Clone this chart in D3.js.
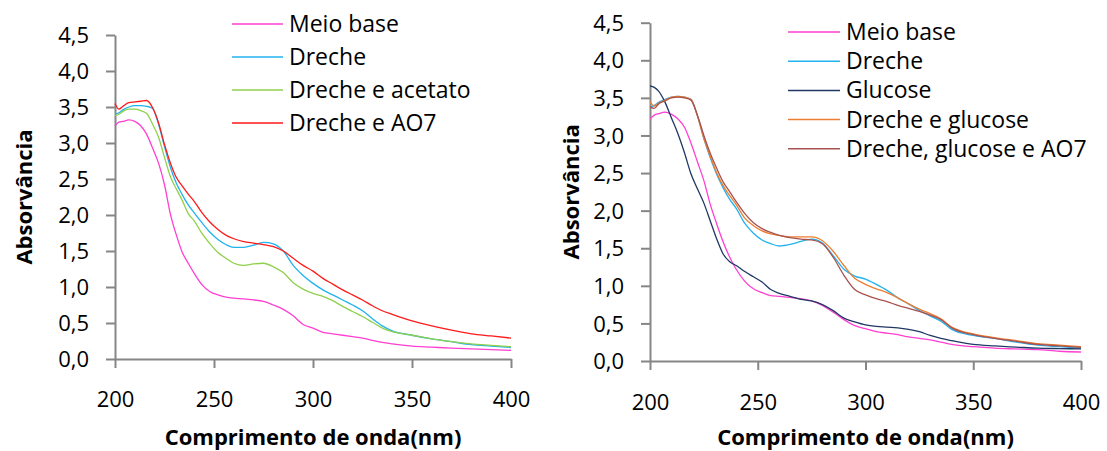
<!DOCTYPE html>
<meta charset="utf-8">
<head>
<title>Absorvancia</title>
<script src="https://cdn.jsdelivr.net/npm/d3@7"></script>
<style>
  body { margin: 0; background: #fff; }
  text { font-family: "Open Sans", Lato, sans-serif; fill: #000; }
  .axis path, .axis line { stroke: #868686; stroke-width: 2; }
</style>
</head>
<body>
<svg id="chart" width="1107" height="451"></svg>
<script>
// wavelength grid shared by every series (nm)
var wavelengths = [200,202,204,207,210,213,216,219,222,225,228,231,234,237,240,244,248,252,256,260,265,270,275,280,285,290,295,300,305,310,315,320,325,330,335,340,350,360,370,380,390,400];
var xTicks = [200, 250, 300, 350, 400];
var yTicks = [0, 0.5, 1, 1.5, 2, 2.5, 3, 3.5, 4, 4.5];

// left panel
var leftNames = ["Meio base", "Dreche", "Dreche e acetato", "Dreche e AO7"];
var leftColors = ["#ff3fd2", "#21b2ef", "#8fd04a", "#ff1a1a"];
var leftMeio = [3.24,3.29,3.30,3.32,3.30,3.24,3.12,2.93,2.72,2.42,2.01,1.72,1.48,1.33,1.19,1.03,0.935,0.89,0.86,0.845,0.835,0.82,0.80,0.75,0.69,0.60,0.48,0.43,0.37,0.35,0.33,0.31,0.29,0.26,0.23,0.21,0.18,0.165,0.15,0.14,0.13,0.12];
var leftDreche = [3.40,3.42,3.46,3.50,3.52,3.52,3.51,3.48,3.26,2.95,2.66,2.44,2.28,2.14,2.03,1.89,1.76,1.66,1.59,1.55,1.55,1.58,1.62,1.60,1.50,1.30,1.16,1.05,0.96,0.89,0.82,0.75,0.67,0.56,0.46,0.39,0.33,0.28,0.24,0.20,0.18,0.16];
var leftAcetato = [3.38,3.40,3.44,3.47,3.47,3.45,3.41,3.26,3.08,2.80,2.53,2.36,2.20,2.02,1.92,1.74,1.60,1.48,1.40,1.33,1.30,1.32,1.33,1.28,1.20,1.06,0.97,0.91,0.87,0.81,0.73,0.66,0.59,0.51,0.43,0.38,0.33,0.28,0.24,0.21,0.19,0.17];
var leftAO7 = [3.55,3.47,3.51,3.56,3.57,3.58,3.59,3.49,3.28,2.98,2.72,2.52,2.40,2.29,2.19,2.03,1.90,1.80,1.72,1.67,1.63,1.61,1.59,1.56,1.50,1.40,1.30,1.22,1.12,1.04,0.96,0.89,0.82,0.74,0.67,0.62,0.53,0.46,0.40,0.35,0.32,0.29];

// right panel
var rightNames = ["Meio base", "Dreche", "Glucose", "Dreche e glucose", "Dreche, glucose e AO7"];
var rightColors = ["#ff3fd2", "#21b2ef", "#1f3864", "#ed7d31", "#a8524f"];
var rightMeio = [3.22,3.27,3.29,3.31,3.28,3.22,3.11,2.90,2.65,2.40,2.08,1.82,1.58,1.38,1.22,1.06,0.96,0.91,0.87,0.86,0.845,0.83,0.80,0.74,0.65,0.55,0.47,0.43,0.39,0.37,0.35,0.32,0.30,0.28,0.25,0.22,0.19,0.17,0.16,0.15,0.13,0.12];
var rightDreche = [3.38,3.40,3.44,3.48,3.51,3.52,3.51,3.48,3.26,2.96,2.70,2.48,2.30,2.15,2.03,1.83,1.70,1.61,1.56,1.53,1.55,1.59,1.62,1.57,1.40,1.22,1.13,1.09,1.02,0.94,0.84,0.76,0.67,0.60,0.53,0.42,0.34,0.30,0.25,0.21,0.19,0.17];
var rightGlucose = [3.66,3.64,3.59,3.44,3.23,3.02,2.77,2.49,2.29,2.10,1.86,1.62,1.42,1.32,1.27,1.19,1.12,1.05,0.95,0.90,0.86,0.82,0.80,0.75,0.67,0.57,0.52,0.48,0.46,0.45,0.44,0.42,0.39,0.34,0.30,0.27,0.22,0.20,0.185,0.17,0.165,0.16];
var rightDrGlu = [3.45,3.39,3.43,3.47,3.51,3.52,3.51,3.48,3.26,2.96,2.72,2.50,2.33,2.20,2.08,1.90,1.80,1.73,1.69,1.67,1.65,1.65,1.65,1.60,1.46,1.27,1.10,1.02,0.96,0.91,0.84,0.76,0.69,0.63,0.56,0.45,0.36,0.31,0.27,0.23,0.21,0.19];
var rightDrGluAO7 = [3.38,3.36,3.42,3.46,3.50,3.51,3.50,3.47,3.27,3.00,2.76,2.56,2.38,2.25,2.12,1.96,1.84,1.76,1.71,1.67,1.64,1.62,1.61,1.56,1.38,1.14,0.95,0.88,0.83,0.79,0.74,0.70,0.66,0.61,0.55,0.44,0.35,0.30,0.26,0.22,0.20,0.18];

var svg = d3.select("#chart");
var fmt = function(d){ return d3.format(".1f")(d).replace(".", ","); };

function drawPanel(p) {
  var x = d3.scaleLinear().domain([200, 400]).range([p.left, p.right]);
  var y = d3.scaleLinear().domain([0, 4.5]).range([p.bottom, p.top]);
  var g = svg.append("g");

  var xAxis = g.append("g").attr("class", "axis")
    .attr("transform", "translate(0," + p.bottom + ")")
    .call(d3.axisBottom(x).tickValues(xTicks).tickSize(9).tickSizeOuter(0).tickPadding(p.xPad));
  xAxis.selectAll("text").style("font-size", "22px");

  var yAxis = g.append("g").attr("class", "axis")
    .attr("transform", "translate(" + p.left + ",0)")
    .call(d3.axisLeft(y).tickValues(yTicks).tickFormat(fmt).tickSize(9).tickSizeOuter(0).tickPadding(p.yPad));
  yAxis.selectAll("text").style("font-size", "22px").attr("dy", "0.35em");

  var line = d3.line().x(function(d){ return x(d[0]); }).y(function(d){ return y(d[1]); })
    .curve(d3.curveMonotoneX);
  p.series.forEach(function(s, i) {
    g.append("path")
      .datum(wavelengths.map(function(w, j){ return [w, s[j]]; }))
      .attr("fill", "none").attr("stroke", p.colors[i]).attr("stroke-width", 1.3)
      .attr("d", line);
  });

  // legend
  p.names.forEach(function(n, i) {
    var ly = p.legY + i * p.legStep;
    g.append("line").attr("x1", p.legX).attr("x2", p.legX + p.legLen)
      .attr("y1", ly).attr("y2", ly).attr("stroke", p.colors[i]).attr("stroke-width", 1.5);
    g.append("text").attr("x", p.legX + p.legLen + 6).attr("y", ly).attr("dy", "0.35em")
      .style("font-size", "23px").text(n);
  });

  g.append("text").attr("x", (p.left + p.right) / 2).attr("y", 437).attr("dy", "0.35em")
    .attr("text-anchor", "middle").style("font-size", "22px").style("font-weight", "bold")
    .text("Comprimento de onda(nm)");
  g.append("text").attr("transform", "translate(" + p.titleX + "," + ((p.top + p.bottom) / 2) + ") rotate(-90)")
    .attr("dy", "0.35em").attr("text-anchor", "middle")
    .style("font-size", "22px").style("font-weight", "bold").text("Absorvância");
}

drawPanel({
  left: 115, right: 511, top: 35, bottom: 359, xPad: 23, yPad: 17, titleX: 24,
  series: [leftMeio, leftDreche, leftAcetato, leftAO7], names: leftNames, colors: leftColors,
  legX: 232, legLen: 51, legY: 24, legStep: 33
});
drawPanel({
  left: 650, right: 1081, top: 22.7, bottom: 361, xPad: 24, yPad: 17, titleX: 571,
  series: [rightMeio, rightDreche, rightGlucose, rightDrGlu, rightDrGluAO7], names: rightNames, colors: rightColors,
  legX: 788, legLen: 52, legY: 32, legStep: 29.2
});
</script>
</body>
</html>
